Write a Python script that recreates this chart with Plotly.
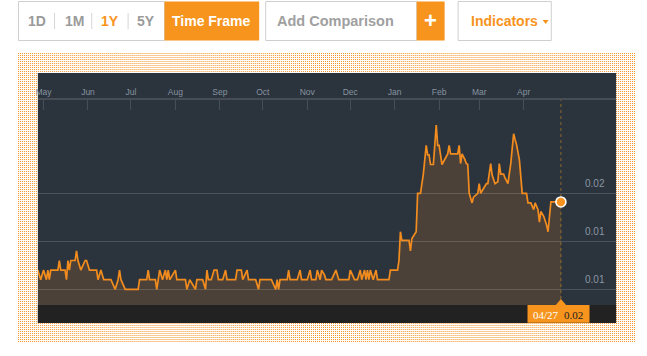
import base64
import plotly.graph_objects as go

# ---------------- data ----------------
dates = [
    "2014-04-27", "2014-04-29", "2014-05-01", "2014-05-03", "2014-05-04", "2014-05-05", "2014-05-06",
    "2014-05-11", "2014-05-12", "2014-05-13", "2014-05-16", "2014-05-17", "2014-05-18", "2014-05-19",
    "2014-05-20", "2014-05-23", "2014-05-24", "2014-05-25", "2014-05-27", "2014-05-30", "2014-05-31",
    "2014-06-02", "2014-06-07", "2014-06-08", "2014-06-10", "2014-06-12", "2014-06-17", "2014-06-20",
    "2014-06-22", "2014-06-23", "2014-06-24", "2014-06-27", "2014-07-06", "2014-07-07", "2014-07-12",
    "2014-07-13", "2014-07-14", "2014-07-18", "2014-07-19", "2014-07-21", "2014-07-23", "2014-07-25",
    "2014-07-26", "2014-07-27", "2014-07-28", "2014-08-01", "2014-08-02", "2014-08-08", "2014-08-09",
    "2014-08-11", "2014-08-15", "2014-08-16", "2014-08-20", "2014-08-22", "2014-08-23", "2014-08-24",
    "2014-08-26", "2014-08-28", "2014-08-30", "2014-08-31", "2014-09-03", "2014-09-05", "2014-09-06",
    "2014-09-12", "2014-09-13", "2014-09-16", "2014-09-17", "2014-09-20", "2014-09-21", "2014-09-26",
    "2014-09-28", "2014-09-29", "2014-10-07", "2014-10-10", "2014-10-11", "2014-10-12", "2014-10-13",
    "2014-10-18", "2014-10-19", "2014-10-20", "2014-10-25", "2014-10-27", "2014-10-28", "2014-11-01",
    "2014-11-03", "2014-11-04", "2014-11-07", "2014-11-08", "2014-11-10", "2014-11-11", "2014-11-13",
    "2014-11-14", "2014-11-18", "2014-11-21", "2014-11-23", "2014-11-30", "2014-12-01", "2014-12-04",
    "2014-12-06", "2014-12-08", "2014-12-09", "2014-12-11", "2014-12-12", "2014-12-13", "2014-12-14",
    "2014-12-15", "2014-12-17", "2014-12-19", "2014-12-20", "2014-12-28", "2014-12-29", "2015-01-03",
    "2015-01-04", "2015-01-05", "2015-01-06", "2015-01-11", "2015-01-12", "2015-01-13", "2015-01-16",
    "2015-01-17", "2015-01-19", "2015-01-21", "2015-01-23", "2015-01-24", "2015-01-25", "2015-01-26",
    "2015-01-28", "2015-01-29", "2015-01-30", "2015-01-31", "2015-02-01", "2015-02-03", "2015-02-05",
    "2015-02-07", "2015-02-08", "2015-02-09", "2015-02-14", "2015-02-15", "2015-02-16", "2015-02-17",
    "2015-02-19", "2015-02-20", "2015-02-21", "2015-02-22", "2015-02-24", "2015-02-25", "2015-02-28",
    "2015-03-01", "2015-03-02", "2015-03-04", "2015-03-06", "2015-03-07", "2015-03-09", "2015-03-10",
    "2015-03-12", "2015-03-14", "2015-03-15", "2015-03-16", "2015-03-18", "2015-03-19", "2015-03-21",
    "2015-03-23", "2015-03-25", "2015-03-26", "2015-03-27", "2015-03-29", "2015-03-31", "2015-04-03",
    "2015-04-04", "2015-04-06", "2015-04-08", "2015-04-09", "2015-04-11", "2015-04-12", "2015-04-13",
    "2015-04-15", "2015-04-17", "2015-04-18", "2015-04-20", "2015-04-27",
]
values = [
    0.008, 0.007, 0.008, 0.007, 0.008, 0.007, 0.008,
    0.008, 0.009, 0.008, 0.008, 0.007, 0.009, 0.008,
    0.009, 0.009, 0.010, 0.009, 0.008, 0.009, 0.009,
    0.008, 0.008, 0.007, 0.008, 0.007, 0.007, 0.006,
    0.007, 0.008, 0.007, 0.006, 0.006, 0.007, 0.007,
    0.008, 0.007, 0.007, 0.006, 0.008, 0.007, 0.008,
    0.007, 0.008, 0.007, 0.008, 0.007, 0.007, 0.006,
    0.007, 0.006, 0.007, 0.007, 0.006, 0.008, 0.007,
    0.007, 0.008, 0.008, 0.007, 0.007, 0.008, 0.007,
    0.007, 0.008, 0.008, 0.007, 0.008, 0.007, 0.007,
    0.006, 0.007, 0.007, 0.006, 0.007, 0.006, 0.007,
    0.007, 0.008, 0.007, 0.007, 0.008, 0.007, 0.007,
    0.008, 0.007, 0.007, 0.008, 0.007, 0.008, 0.0075,
    0.007, 0.007, 0.008, 0.007, 0.007, 0.008, 0.007,
    0.007, 0.008, 0.007, 0.008, 0.007, 0.008, 0.007,
    0.008, 0.007, 0.008, 0.007, 0.007, 0.008, 0.008,
    0.009, 0.012, 0.0111, 0.0111, 0.0100, 0.0113, 0.012,
    0.016, 0.016, 0.018, 0.021, 0.020, 0.020, 0.019,
    0.019, 0.0212, 0.0231, 0.021, 0.021, 0.019, 0.0195,
    0.0201, 0.021, 0.0201, 0.0201, 0.021, 0.0191, 0.0201,
    0.0195, 0.0191, 0.019, 0.016, 0.015, 0.0156, 0.016,
    0.017, 0.016, 0.0165, 0.017, 0.017, 0.0191, 0.0179,
    0.017, 0.0172, 0.0191, 0.018, 0.018, 0.0176, 0.017,
    0.0191, 0.0222, 0.0216, 0.0211, 0.0195, 0.016, 0.016,
    0.015, 0.015, 0.0143, 0.015, 0.0143, 0.0130, 0.0141,
    0.0136, 0.0127, 0.0120, 0.0151, 0.0151,
]
grid_values = [0.006, 0.011, 0.016]
month_ticks = ["2014-05-01", "2014-06-01", "2014-07-01", "2014-08-01", "2014-09-01", "2014-10-01",
               "2014-11-01", "2014-12-01", "2015-01-01", "2015-02-01", "2015-03-01", "2015-04-01"]
x_range = ["2014-04-27 01:00", "2015-06-04 12:00"]
y_range = [0.004365, 0.02572]
period_buttons = ["1D", "1M", "1Y", "5Y"]
active_period = "1Y"

# ---------------- helpers ----------------
W, H = 647, 356
def px(x):
    return x / W
def py(y):
    return 1 - y / H

ORANGE = "#f7941d"
PANEL = "#2b333d"
FONT = "Liberation Sans"

fig = go.Figure()
fig.add_trace(go.Scatter(
    x=dates, y=values, mode="lines",
    line=dict(color="#f28c1e", width=1.7),
    fill="tozeroy", fillcolor="rgba(247,142,30,0.16)",
    hoverinfo="skip", showlegend=False,
))
fig.add_trace(go.Scatter(
    x=[dates[-1]], y=[values[-1]], mode="markers",
    marker=dict(size=10, color="#f7931e", line=dict(color="white", width=1.6)),
    hoverinfo="skip", showlegend=False,
))

# dotted orange background as an SVG pattern image
svg = ('<svg xmlns="http://www.w3.org/2000/svg" width="619" height="289">'
       '<defs><pattern id="p" width="2" height="2" patternUnits="userSpaceOnUse">'
       '<rect width="1" height="1" fill="#f39426"/></pattern></defs>'
       '<rect width="619" height="289" fill="url(#p)"/></svg>')
svg_uri = "data:image/svg+xml;base64," + base64.b64encode(svg.encode()).decode()

shapes = []
# dark panel + bottom strip
shapes.append(dict(type="rect", xref="paper", yref="paper", x0=px(36), x1=px(616),
                   y0=py(323), y1=py(73), fillcolor=PANEL, line=dict(width=0), layer="below"))
shapes.append(dict(type="rect", xref="paper", yref="paper", x0=px(36), x1=px(616),
                   y0=py(323), y1=py(305), fillcolor="#222222", line=dict(width=0), layer="below"))
# crosshair at last point
shapes.append(dict(type="line", xref="x", yref="paper", x0=dates[-1], x1=dates[-1],
                   y0=py(305), y1=py(100), line=dict(color="#8a6b2e", width=1, dash="dot"),
                   layer="below"))
# callout
shapes.append(dict(type="rect", xref="x", xsizemode="pixel", xanchor=dates[-1],
                   x0=-33.4, x1=28.6, yref="paper", y0=py(322.7), y1=py(305),
                   fillcolor=ORANGE, line=dict(width=0), layer="above"))
shapes.append(dict(type="path", xref="x", xsizemode="pixel", xanchor=dates[-1],
                   yref="paper", ysizemode="pixel", yanchor=py(305),
                   path="M-6,-1 L0,6 L6,-1 Z", fillcolor=ORANGE, line=dict(width=0), layer="above"))

# toolbar
TB_TOP, TB_BOT = 1.5, 40.5
TB_MID = 21
GRAY_BORDER = "#cfcfcf"
def rect(x0, x1, fill, border):
    return dict(type="rect", xref="paper", yref="paper", x0=px(x0), x1=px(x1),
                y0=py(TB_BOT), y1=py(TB_TOP), fillcolor=fill,
                line=dict(color=border, width=1) if border else dict(width=0), layer="above")
shapes.append(rect(16.5, 163, "white", GRAY_BORDER))
shapes.append(rect(163, 258, ORANGE, None))
shapes.append(rect(264.5, 416, "white", GRAY_BORDER))
shapes.append(rect(416, 444, ORANGE, None))
shapes.append(rect(457.5, 551, "white", GRAY_BORDER))
for sx in [52.7, 90, 126.5]:
    shapes.append(dict(type="line", xref="paper", yref="paper", x0=px(sx), x1=px(sx),
                       y0=py(TB_MID + 8), y1=py(TB_MID - 8), line=dict(color="#d6d6d6", width=1)))
shapes.append(dict(type="path", xref="paper", yref="paper",
                   path=(f"M{px(542.3)},{py(TB_MID - 1)} L{px(548.3)},{py(TB_MID - 1)} "
                         f"L{px(545.3)},{py(TB_MID + 3)} Z"),
                   fillcolor=ORANGE, line=dict(width=0)))

annotations = []
for v in grid_values:
    annotations.append(dict(text=f"{v:.2f}", xref="paper", x=px(607), xanchor="right",
                            yref="y", y=v, yanchor="bottom", yshift=2, showarrow=False,
                            font=dict(family=FONT, size=10, color="#8a96a2")))
last_label = dates[-1][5:7] + "/" + dates[-1][8:10]
annotations.append(dict(text=last_label, xref="x", x=dates[-1], xshift=-15.2, xanchor="center",
                        yref="paper", y=py(314.5), yanchor="middle", showarrow=False,
                        font=dict(family="Liberation Serif", size=11, color="white")))
annotations.append(dict(text=f"{values[-1]:.2f}", xref="x", x=dates[-1], xshift=12.8,
                        xanchor="center", yref="paper", y=py(314.5), yanchor="middle",
                        showarrow=False,
                        font=dict(family="Liberation Serif", size=11, color="#222222")))

TB_Y = py(TB_MID)
def tb_text(text, x, size, color, anchor="center"):
    return dict(text=text, xref="paper", x=px(x), xanchor=anchor, yref="paper", y=TB_Y,
                yanchor="middle", showarrow=False,
                font=dict(family=FONT, size=size, color=color))
for label, cx in zip(period_buttons, [35, 72.3, 108.5, 144.3]):
    annotations.append(tb_text(f"<b>{label}</b>", cx, 14,
                               ORANGE if label == active_period else "#9b9b9b"))
annotations.append(tb_text("<b>Time Frame</b>", 210.5, 14, "white"))
annotations.append(tb_text("<b>Add Comparison</b>", 273.5, 14.5, "#a0a0a0", "left"))
annotations.append(tb_text("<b>+</b>", 430, 22, "white"))
annotations.append(tb_text("<b>Indicators</b>", 468.5, 14, ORANGE, "left"))

fig.update_layout(
    width=W, height=H, margin=dict(l=0, r=0, t=0, b=0),
    paper_bgcolor="white", plot_bgcolor="rgba(0,0,0,0)",
    showlegend=False,
    xaxis=dict(domain=[px(36), px(616)], type="date", range=x_range, side="top",
               showgrid=False, zeroline=False, showline=True, linecolor="#464d55", linewidth=2,
               ticks="inside", ticklen=10, tickcolor="#464d55", tickwidth=1,
               tickvals=month_ticks, tickformat="%b",
               tickfont=dict(family=FONT, size=8.5, color="#8793a0"), fixedrange=True),
    yaxis=dict(domain=[py(305), py(100)], range=y_range, tickvals=grid_values,
               showticklabels=False, showgrid=True, gridcolor="#4b545e", gridwidth=1,
               zeroline=False, showline=False, ticks="", fixedrange=True),
    shapes=shapes, annotations=annotations,
    images=[dict(source=svg_uri, xref="paper", yref="paper", x=px(16), y=py(53),
                 sizex=619 / W, sizey=289 / H, sizing="stretch",
                 xanchor="left", yanchor="top", layer="below")],
)

fig.write_html("out.html", config={"displayModeBar": False},
               post_script="document.body.style.margin='0';document.body.style.overflow='hidden';")
